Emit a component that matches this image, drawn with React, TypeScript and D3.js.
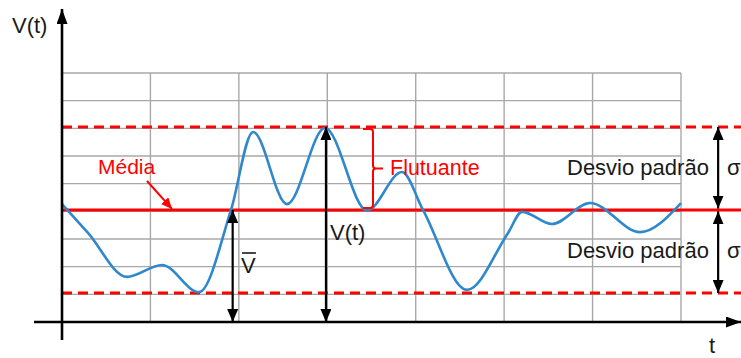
import React, { useRef, useEffect } from 'react';
import * as d3 from 'd3';

// signal samples (t in grid columns, V in grid rows)
const curveT = [0, 0.294, 0.735, 1.131, 1.549, 1.911, 2.16, 2.544, 2.974, 3.449, 3.845, 4.082, 4.58, 5.044, 5.202, 5.541, 5.971, 6.537, 7.0];
const curveV = [4.26, 3.22, 1.63, 2.06, 1.08, 4.05, 6.87, 4.26, 7.01, 4.03, 5.42, 4.05, 1.16, 3.22, 3.98, 3.54, 4.3, 3.25, 4.3];

const gridCols = [0, 1, 2, 3, 4, 5, 6, 7];
const gridRows = [0, 1, 2, 3, 4, 5, 6, 7, 8, 9];

const meanV = 4.05;
const sigmaV = 3;

const vBarT = 1.93;   // arrow for mean value
const vtT = 2.985;    // arrow for instantaneous value (at the peak)
const sigmaT = 7.42;  // arrows for standard deviation

const W = 741;
const H = 358;
const FONT = '"Liberation Sans", Arial, sans-serif';

export default function App() {
  const svgRef = useRef<SVGSVGElement>(null);

  useEffect(() => {
    if (!svgRef.current) return;
    const svg = d3.select(svgRef.current);
    svg.selectAll('*').remove();

    const x = d3.scaleLinear().domain([0, 7]).range([62, 681]);
    const y = d3.scaleLinear().domain([0, 9]).range([322, 73]);

    const defs = svg.append('defs');
    const mk = (id: string, color: string, w: number, l: number) => {
      defs.append('marker')
        .attr('id', id)
        .attr('viewBox', `0 ${-w / 2} ${l} ${w}`)
        .attr('refX', l)
        .attr('refY', 0)
        .attr('markerWidth', l)
        .attr('markerHeight', w)
        .attr('markerUnits', 'userSpaceOnUse')
        .attr('orient', 'auto-start-reverse')
        .append('path')
        .attr('d', `M0,${-w / 2}L${l},0L0,${w / 2}Z`)
        .attr('fill', color);
    };
    mk('blk', '#000', 11, 13);
    mk('axis', '#000', 11, 15);
    mk('red', '#ff0000', 10, 11);

    // grid
    const grid = svg.append('g').attr('stroke', '#a8a8a8').attr('stroke-width', 1.4);
    grid.selectAll('line.v').data(gridCols).enter().append('line')
      .attr('x1', d => x(d)).attr('x2', d => x(d))
      .attr('y1', y(9)).attr('y2', y(0));
    grid.selectAll('line.h').data(gridRows).enter().append('line')
      .attr('x1', x(0)).attr('x2', x(7))
      .attr('y1', d => y(d)).attr('y2', d => y(d));

    // mean and +/- sigma lines
    svg.append('line')
      .attr('x1', x(0)).attr('x2', W)
      .attr('y1', y(meanV)).attr('y2', y(meanV))
      .attr('stroke', '#ff0000').attr('stroke-width', 3);
    [meanV + sigmaV, meanV - sigmaV].forEach(v => {
      svg.append('line')
        .attr('x1', x(0)).attr('x2', W)
        .attr('y1', y(v)).attr('y2', y(v))
        .attr('stroke', '#ff0000').attr('stroke-width', 3)
        .attr('stroke-dasharray', '10,6');
    });

    // signal
    const line = d3.line<number>()
      .x((_, i) => x(curveT[i]))
      .y(d => y(d))
      .curve(d3.curveMonotoneX);
    svg.append('path')
      .attr('d', line(curveV))
      .attr('fill', 'none')
      .attr('stroke', '#2f88cc')
      .attr('stroke-width', 2.6);

    // axes
    svg.append('line')
      .attr('x1', 34).attr('x2', W)
      .attr('y1', y(0)).attr('y2', y(0))
      .attr('stroke', '#000').attr('stroke-width', 2.6)
      .attr('marker-end', 'url(#axis)');
    svg.append('line')
      .attr('x1', x(0)).attr('x2', x(0))
      .attr('y1', 340).attr('y2', 9)
      .attr('stroke', '#000').attr('stroke-width', 2.6)
      .attr('marker-end', 'url(#axis)');

    // double arrows
    const dbl = (t: number, v0: number, v1: number) => {
      svg.append('line')
        .attr('x1', x(t)).attr('x2', x(t))
        .attr('y1', y(v0)).attr('y2', y(v1))
        .attr('stroke', '#000').attr('stroke-width', 2.2)
        .attr('marker-start', 'url(#blk)')
        .attr('marker-end', 'url(#blk)');
    };
    dbl(vBarT, meanV, 0);
    dbl(vtT, meanV + sigmaV, 0);
    dbl(sigmaT, meanV + sigmaV, meanV + 0.05);
    dbl(sigmaT, meanV - 0.05, meanV - sigmaV);

    // "Média" pointer
    svg.append('line')
      .attr('x1', 147).attr('y1', 181)
      .attr('x2', 172).attr('y2', y(meanV) - 1)
      .attr('stroke', '#ff0000').attr('stroke-width', 2)
      .attr('marker-end', 'url(#red)');

    // bracket for "Flutuante"
    const yt = y(meanV + sigmaV) + 2;
    const yb = y(meanV) - 2;
    const ym = (yt + yb) / 2;
    const bx = 373;
    svg.append('path')
      .attr('d', `M363,${yt} L${bx - 3},${yt} Q${bx},${yt} ${bx},${yt + 3} L${bx},${ym - 3} Q${bx},${ym} ${bx + 3},${ym} L383,${ym} M${bx + 3},${ym} Q${bx},${ym} ${bx},${ym + 3} L${bx},${yb - 3} Q${bx},${yb} ${bx - 3},${yb} L363,${yb}`)
      .attr('fill', 'none')
      .attr('stroke', '#ff0000')
      .attr('stroke-width', 2);

    // texts
    const txt = (s: string, tx: number, ty: number, color = '#1a1a1a', size = 22) =>
      svg.append('text')
        .attr('x', tx).attr('y', ty)
        .attr('font-family', FONT)
        .attr('font-size', size)
        .attr('fill', color)
        .text(s);

    txt('V(t)', 12, 33);
    txt('t', 709, 353);
    txt('Média', 98, 174, '#ff0000', 21);
    txt('Flutuante', 390, 175, '#ff0000', 21.5);
    txt('Desvio padrão', 567, 175);
    txt('Desvio padrão', 567, 258);
    txt('σ', 727, 175);
    txt('σ', 727, 258);
    txt('V(t)', 330, 240);
    txt('V', 241, 273);
    svg.append('line')
      .attr('x1', 242).attr('x2', 256)
      .attr('y1', 253).attr('y2', 253)
      .attr('stroke', '#1a1a1a').attr('stroke-width', 1.6);
  }, []);

  return (
    <svg
      ref={svgRef}
      width={W}
      height={H}
      style={{ position: 'absolute', left: 0, top: 0, background: '#fff' }}
    />
  );
}
